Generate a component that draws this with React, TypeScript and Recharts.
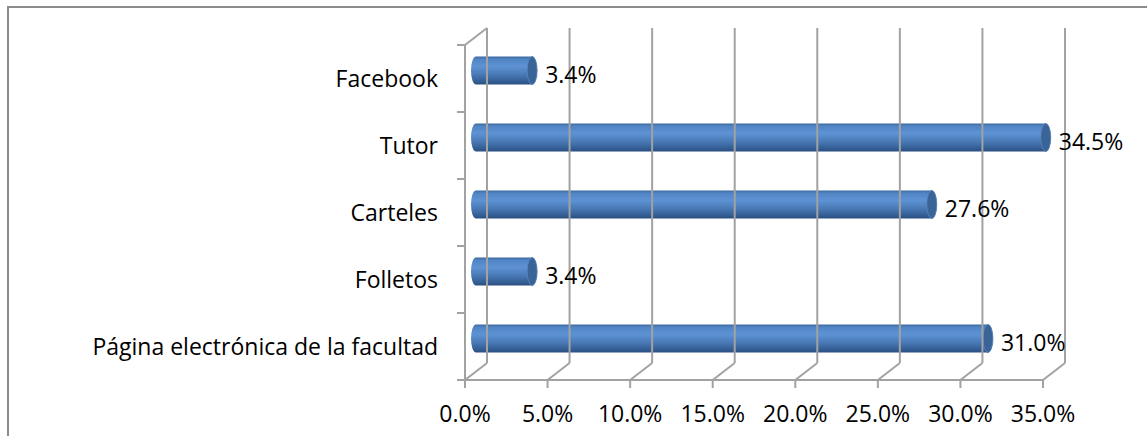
import { BarChart, Bar, XAxis, YAxis, LabelList } from 'recharts';

// fuente del gráfico: canal por el que se enteraron
const categories = ['Facebook', 'Tutor', 'Carteles', 'Folletos', 'Página electrónica de la facultad'];
const shares = [0.034, 0.345, 0.276, 0.034, 0.31];
const xTicks = [0, 0.05, 0.1, 0.15, 0.2, 0.25, 0.3, 0.35];

const data = categories.map((name, i) => ({ name, value: shares[i] }));

// frame of the pseudo-3D plot
const W = 1147;
const H = 436;
const PLOT_TOP = 45;
const PLOT_BOTTOM = 380;
const PLOT_LEFT = 465;
const PLOT_RIGHT = 1043;
const DX = 22; // depth offset of back wall
const DY = 17;
const BAND = (PLOT_BOTTOM - PLOT_TOP) / categories.length;

const GRID = '#a2a2a2';
const FONT = '"Open Sans", sans-serif';
const FS = 23;
const fmt = (v: number) => `${(v * 100).toFixed(1)}%`;

const XTick = (props: any) => {
  const { x, payload } = props;
  return (
    <g>
      {/* back wall gridline + floor diagonal */}
      <line x1={x + DX} y1={PLOT_TOP - DY} x2={x + DX} y2={PLOT_BOTTOM - DY} stroke={GRID} strokeWidth={2} />
      <line x1={x} y1={PLOT_BOTTOM} x2={x + DX} y2={PLOT_BOTTOM - DY} stroke={GRID} strokeWidth={2} />
      <line x1={x} y1={PLOT_BOTTOM} x2={x} y2={PLOT_BOTTOM + 8} stroke={GRID} strokeWidth={2} />
      <text x={x} y={422} textAnchor="middle" fontFamily={FONT} fontSize={FS} fill="#000">
        {fmt(payload.value)}
      </text>
    </g>
  );
};

const YTick = (props: any) => {
  const { y, payload, index } = props;
  const top = y - BAND / 2;
  return (
    <g>
      <line x1={PLOT_LEFT - 8} y1={top} x2={PLOT_LEFT} y2={top} stroke={GRID} strokeWidth={2} />
      {index === 0 && (
        <line x1={PLOT_LEFT} y1={top} x2={PLOT_LEFT + DX} y2={top - DY} stroke={GRID} strokeWidth={2} />
      )}
      {index === categories.length - 1 && (
        <line x1={PLOT_LEFT - 8} y1={y + BAND / 2} x2={PLOT_LEFT} y2={y + BAND / 2} stroke={GRID} strokeWidth={2} />
      )}
      <text x={PLOT_LEFT - 27} y={y + 8} textAnchor="end" fontFamily={FONT} fontSize={FS} fill="#000">
        {payload.value}
      </text>
    </g>
  );
};

const Cylinder = (props: any) => {
  const { x, y, width, height, index } = props;
  if (!width || width <= 0) return null;
  const bx = x + DX / 2;
  const by = y - DY / 2;
  const r = height / 2;
  const rx = 5;
  const id = `cyl-${index}`;
  return (
    <g>
      <defs>
        <linearGradient id={id} x1="0" y1="0" x2="0" y2="1">
          <stop offset="0" stopColor="#3c69a3" />
          <stop offset="0.1" stopColor="#5185c4" />
          <stop offset="0.35" stopColor="#5d92d4" />
          <stop offset="0.6" stopColor="#4d7ebb" />
          <stop offset="0.85" stopColor="#37629a" />
          <stop offset="1" stopColor="#2b4f80" />
        </linearGradient>
      </defs>
      <path
        d={`M ${bx} ${by} L ${bx + width} ${by} A ${rx} ${r} 0 0 1 ${bx + width} ${by + height} L ${bx} ${by + height} A ${rx} ${r} 0 0 1 ${bx} ${by} Z`}
        fill={`url(#${id})`}
      />
      <ellipse cx={bx + width} cy={by + r} rx={rx} ry={r} fill="#3a6498" stroke="#5a86bc" strokeWidth={0.8} />
    </g>
  );
};

const ValueLabel = (props: any) => {
  const { x, y, width, height, value } = props;
  return (
    <text x={x + DX / 2 + width + 13} y={y - DY / 2 + height / 2 + 12.5} fontFamily={FONT} fontSize={FS} fill="#000">
      {fmt(value)}
    </text>
  );
};

export default function App() {
  return (
    <div style={{ position: 'absolute', left: 0, top: 0, width: W, height: H, overflow: 'hidden', background: '#fff' }}>
      <div
        style={{
          position: 'absolute',
          left: 7,
          top: 6,
          width: W,
          height: H,
          borderLeft: '2px solid #8c8c8c',
          borderTop: '2px solid #8c8c8c',
        }}
      />
      <div style={{ position: 'absolute', left: 0, top: 0 }}>
        <BarChart
          width={W}
          height={H}
          data={data}
          layout="vertical"
          margin={{ top: PLOT_TOP, right: W - PLOT_RIGHT, bottom: 6, left: 65 }}
          barCategoryGap={0}
        >
          <XAxis
            type="number"
            domain={[0, 0.35]}
            ticks={xTicks}
            interval={0}
            height={H - PLOT_BOTTOM - 6}
            axisLine={{ stroke: GRID, strokeWidth: 2 }}
            tickLine={false}
            tick={<XTick />}
          />
          <YAxis
            type="category"
            dataKey="name"
            width={PLOT_LEFT - 65}
            interval={0}
            axisLine={{ stroke: GRID, strokeWidth: 2 }}
            tickLine={false}
            tick={<YTick />}
          />
          <Bar dataKey="value" barSize={28} shape={<Cylinder />} isAnimationActive={false}>
            <LabelList dataKey="value" content={<ValueLabel />} />
          </Bar>
        </BarChart>
      </div>
    </div>
  );
}
